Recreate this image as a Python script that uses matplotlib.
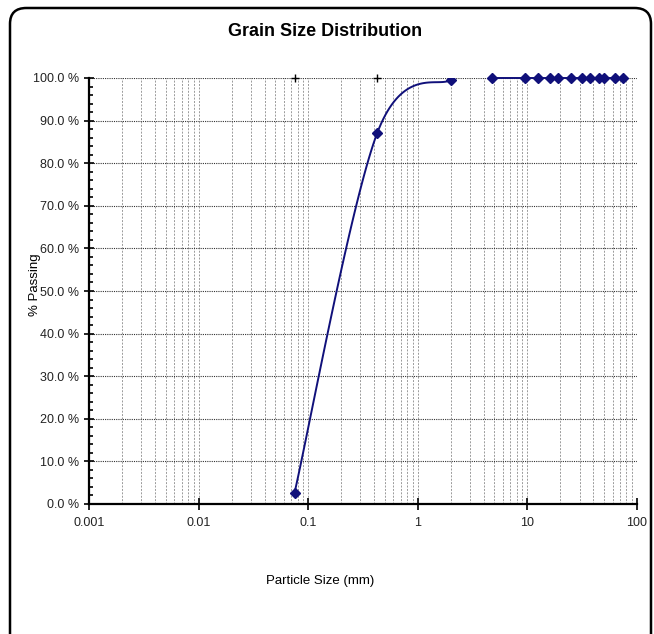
import numpy as np
import matplotlib
matplotlib.use("Agg")
import matplotlib.pyplot as plt
from matplotlib.patches import FancyBboxPatch
from matplotlib.ticker import FixedLocator, FuncFormatter, LogLocator, NullFormatter

# sieve data (mm, % passing)
fine_sizes = [0.075, 0.425, 2.0]
fine_pass = [2.6, 87.0, 99.6]
coarse_sizes = [4.75, 9.5, 12.5, 16, 19, 25, 31.5, 37.5, 45, 50, 63, 75]
coarse_pass = [100, 100, 100, 100, 100, 100, 100, 100, 100, 100, 100, 100]
plus_sizes = [0.075, 0.425]
plus_pass = [100, 100]

x_ticks = [0.001, 0.01, 0.1, 1, 10, 100]
x_labels = ["0.001", "0.01", "0.1", "1", "10", "100"]
y_ticks = [0, 10, 20, 30, 40, 50, 60, 70, 80, 90, 100]

NARROW = ["Liberation Sans Narrow", "DejaVu Sans Condensed", "Liberation Sans", "DejaVu Sans"]
NAVY = "#10107a"


def smooth(ax, xs, ys, n=40):
    # excel style bezier smoothing, done in screen space
    pts = ax.transData.transform(np.column_stack([xs, ys]))
    out = []
    for i in range(len(pts) - 1):
        p0 = pts[i - 1] if i > 0 else pts[i]
        p1 = pts[i]
        p2 = pts[i + 1]
        p3 = pts[i + 2] if i + 2 < len(pts) else pts[i + 1]
        c1 = p1 + (p2 - p0) / 6
        c2 = p2 - (p3 - p1) / 6
        t = np.linspace(0, 1, n)[:, None]
        seg = (1-t)**3*p1 + 3*(1-t)**2*t*c1 + 3*(1-t)*t**2*c2 + t**3*p2
        out.append(seg)
    out = np.vstack(out)
    return ax.transData.inverted().transform(out)


fig = plt.figure(figsize=(6.54, 6.34), dpi=100)
ax = fig.add_axes([89/654, 1-504/634, 548/654, 426/634])

ax.set_xscale("log")
ax.set_xlim(0.001, 100)
ax.set_ylim(0, 100)

ax.xaxis.set_major_locator(FixedLocator(x_ticks))
ax.set_xticklabels(x_labels)
ax.xaxis.set_minor_locator(LogLocator(base=10, subs=np.arange(2, 10)))
ax.xaxis.set_minor_formatter(NullFormatter())
ax.yaxis.set_major_locator(FixedLocator(y_ticks))
ax.yaxis.set_minor_locator(FixedLocator(np.arange(0, 101, 2)))
ax.yaxis.set_major_formatter(FuncFormatter(lambda v, p: "%.1f %%" % v))

ax.grid(True, which="both", axis="x", color="#9a9a9a", ls=(0, (2, 1.5)), lw=0.7)
ax.grid(True, which="major", axis="y", color="#333333", ls=(0, (1, 1)), lw=0.8)

for s in ["top", "right"]:
    ax.spines[s].set_visible(False)
ax.spines["left"].set_linewidth(1.6)
ax.spines["bottom"].set_linewidth(1.6)

ax.tick_params(axis="y", which="major", direction="inout", length=7, width=1.2, labelsize=9)
ax.tick_params(axis="y", which="minor", direction="in", length=3, width=1.2)
ax.tick_params(axis="x", which="major", direction="inout", length=8, width=1.2, labelsize=9, pad=5)
ax.tick_params(axis="x", which="minor", length=0)
for lab in ax.get_xticklabels() + ax.get_yticklabels():
    lab.set_family(NARROW)
    lab.set_color("#222222")

# curves
fig.canvas.draw()
curve = smooth(ax, fine_sizes, fine_pass)
ax.plot(curve[:, 0], curve[:, 1], color=NAVY, lw=1.4, zorder=3)
ax.plot(fine_sizes, fine_pass, ls="none", marker="D", ms=5.5, color=NAVY, zorder=4)
ax.plot(coarse_sizes, coarse_pass, color=NAVY, lw=1.4, marker="D", ms=5.5, zorder=4, clip_on=False)
ax.plot(plus_sizes, plus_pass, ls="none", marker="+", ms=6, mew=1.0, color="black", zorder=4, clip_on=False)

fig.text(325/654, 1-32/634, "Grain Size Distribution", ha="center", va="center",
         fontsize=13, fontweight="bold", family=NARROW)
fig.text(320/654, 1-581/634, "Particle Size (mm)", ha="center", va="center",
         fontsize=9.5, family=NARROW)
fig.text(35/654, 1-285/634, "% Passing", ha="center", va="center", rotation=90,
         fontsize=9.5, family=["Liberation Sans", "DejaVu Sans"])

# chart area frame with rounded corner (bottom edge falls outside the image)
frame = FancyBboxPatch((10/654, -20/634), 641/654, 646/634, boxstyle="round,pad=0,rounding_size=0.025",
                       transform=fig.transFigure, fill=False, ec="black", lw=1.8, clip_on=False)
fig.patches.append(frame)

fig.savefig("out.png", dpi=100)
